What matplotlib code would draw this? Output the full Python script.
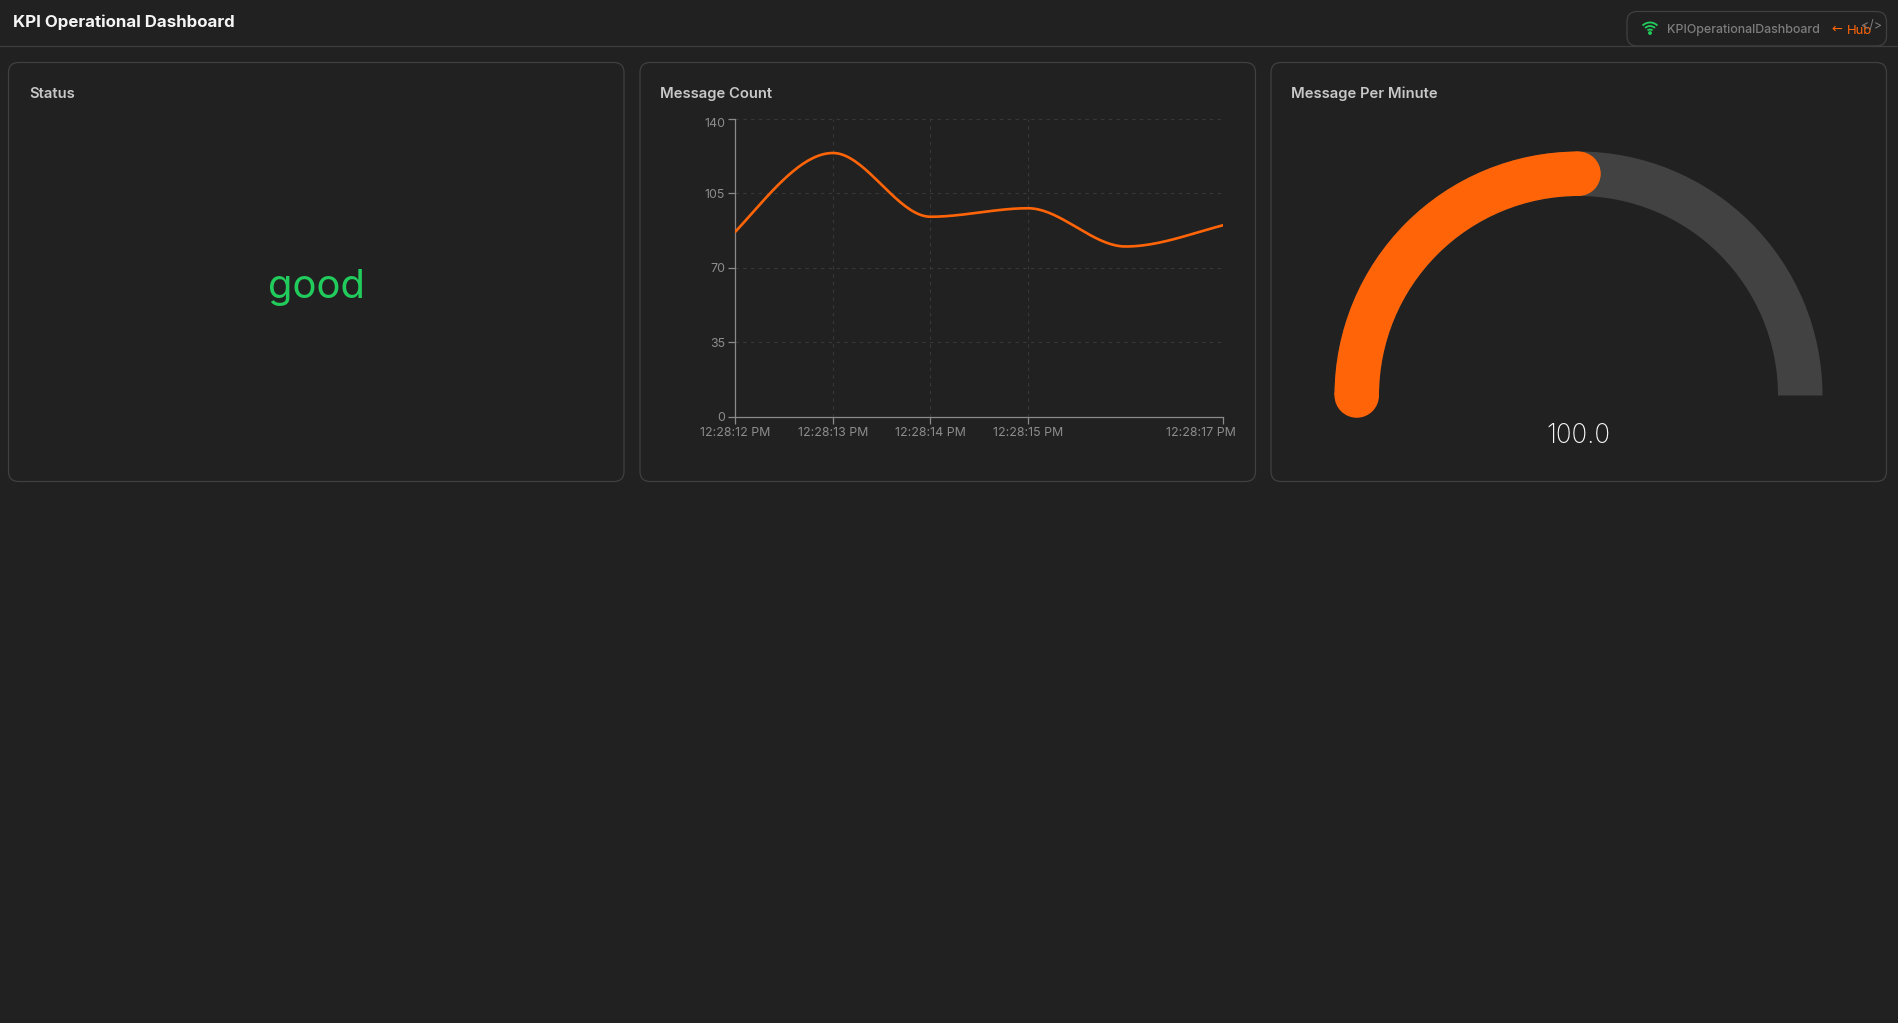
import numpy as np
import matplotlib
matplotlib.use("Agg")
import matplotlib.pyplot as plt
from matplotlib.patches import FancyBboxPatch, Wedge, Circle, Arc
from matplotlib.transforms import ScaledTranslation

# data
seconds = [12, 13, 14, 15, 16, 17]
message_count = [87, 124, 94, 98, 80, 90]
x_ticks = [12, 13, 14, 15, 17]
x_labels = ["12:28:12 PM", "12:28:13 PM", "12:28:14 PM", "12:28:15 PM", "12:28:17 PM"]
y_ticks = [0, 35, 70, 105, 140]
gauge_value = 100.0
gauge_max = 200.0
status_text = "good"
card_titles = ["Status", "Message Count", "Message Per Minute"]

BG = "#212121"
BORDER = "#404040"
ORANGE = "#ff6508"
GREEN = "#22cc5c"
W, H = 1899, 1023

plt.rcParams["font.family"] = ["Inter", "DejaVu Sans"]


def px(n):
    return n * 72 / 100


# monotone style smoothing through the samples, flat at turning points
def smooth_line(xs, ys, per_seg=40):
    xs = np.array(xs, dtype=float)
    ys = np.array(ys, dtype=float)
    d = np.diff(ys) / np.diff(xs)
    m = np.zeros(len(xs))
    for i in range(1, len(xs) - 1):
        if d[i - 1] * d[i] > 0:
            m[i] = 2 * d[i - 1] * d[i] / (d[i - 1] + d[i])
    m[0] = d[0] * 1.35
    m[-1] = d[-1] * 1.2
    out_x, out_y = [], []
    for i in range(len(xs) - 1):
        h = xs[i + 1] - xs[i]
        t = np.linspace(0, 1, per_seg)
        y = ((2 * t**3 - 3 * t**2 + 1) * ys[i] + (t**3 - 2 * t**2 + t) * h * m[i]
             + (-2 * t**3 + 3 * t**2) * ys[i + 1] + (t**3 - t**2) * h * m[i + 1])
        out_x.extend(xs[i] + t * h)
        out_y.extend(y)
    return out_x, out_y


fig = plt.figure(figsize=(W / 100, H / 100), dpi=100, facecolor=BG)

# overlay in pixel coordinates for the page furniture
page = fig.add_axes([0, 0, 1, 1])
page.set_xlim(0, W)
page.set_ylim(H, 0)
page.axis("off")

page.plot([0, W], [46, 46], color="#3d3d3d", lw=0.9)
page.text(13, 27, "KPI Operational Dashboard", color="#f5f5f5", fontsize=px(16.9),
          fontweight="bold", va="baseline", ha="left")

# connection pill
page.add_patch(FancyBboxPatch((1627, 11.5), 259.5, 34.5, boxstyle="round,pad=0,rounding_size=10",
                              fc=BG, ec=BORDER, lw=0.9))
for r in [3.5, 7, 10.5]:
    page.add_patch(Arc((1650, 33), r * 2, r * 2, theta1=225, theta2=315, color=GREEN, lw=1.3))
page.add_patch(Circle((1650, 33), 1.2, color=GREEN))
page.text(1667, 33.5, "KPIOperationalDashboard", color="#7d7d7d", fontsize=px(12.4),
          fontweight="medium", va="baseline", ha="left")
page.text(1831, 29, "←", color=ORANGE, fontsize=px(13), va="center", ha="left",
          family=["DejaVu Sans"])
page.text(1847, 33.5, "Hub", color=ORANGE, fontsize=px(13), va="baseline", ha="left")
page.text(1872, 26.5, "</>", color="#7d7d7d", fontsize=px(12.5), va="center", ha="center")

# cards
card_left = [8.5, 640, 1271]
for left, title in zip(card_left, card_titles):
    page.add_patch(FancyBboxPatch((left, 62.5), 615.5, 419, boxstyle="round,pad=0,rounding_size=10",
                                  fc=BG, ec=BORDER, lw=0.9))
    page.text(left + 20.5, 98, title, color="#c8c8c8", fontsize=px(14.8), fontweight="semibold",
              va="baseline", ha="left")

# status
page.text(316.5, 287.5, status_text, color=GREEN, fontsize=px(40), fontweight="normal",
          va="center", ha="center")

# gauge
cx, cy = 1578.5, 395.5
outer = 244
band = 44.5
mid = outer - band / 2
end_angle = 180 + 180 * gauge_value / gauge_max
page.add_patch(Wedge((cx, cy), outer, 180, 360, width=band, fc="#424242", ec="none"))
page.add_patch(Wedge((cx, cy), outer, 180, end_angle, width=band, fc=ORANGE, ec="none"))
for a in [180, end_angle]:
    a = np.deg2rad(a)
    page.add_patch(Circle((cx + mid * np.cos(a), cy + mid * np.sin(a)), band / 2, fc=ORANGE, ec="none"))
page.text(cx, 436, f"{gauge_value:.1f}", color="#f7f7f7", fontsize=px(26), fontweight="light",
          va="center", ha="center")

# message count chart
left, right, top, bottom = 735.5, 1223, 119, 416.5
ax = fig.add_axes([left / W, 1 - bottom / H, (right - left) / W, (bottom - top) / H])
ax.patch.set_alpha(0)
line_x, line_y = smooth_line(seconds, message_count)
ax.plot(line_x, line_y, color=ORANGE, lw=1.9, solid_capstyle="round", zorder=3)
ax.set_xlim(12, 17)
ax.set_ylim(0, 140)
ax.set_xticks(x_ticks)
ax.set_xticklabels(x_labels)
ax.set_yticks(y_ticks)
ax.grid(True, color="#383838", lw=0.8, ls=(0, (3, 4)))
ax.set_axisbelow(True)
for s in ["top", "right"]:
    ax.spines[s].set_visible(False)
for s in ["left", "bottom"]:
    ax.spines[s].set_color("#8a8a8a")
    ax.spines[s].set_linewidth(0.9)
ax.tick_params(colors="#8a8a8a", labelcolor="#8c8c8c", length=5, width=0.9, labelsize=px(12.4), pad=2.4)
# end labels sit inside the chart box, like the dashboard clamps them
last_label = ax.get_xticklabels()[-1]
last_label.set_transform(last_label.get_transform() + ScaledTranslation(-22 / 100, 0, fig.dpi_scale_trans))
top_label = ax.get_yticklabels()[-1]
top_label.set_transform(top_label.get_transform() + ScaledTranslation(0, -3.5 / 100, fig.dpi_scale_trans))

fig.savefig("out.png", dpi=100, facecolor=BG)
